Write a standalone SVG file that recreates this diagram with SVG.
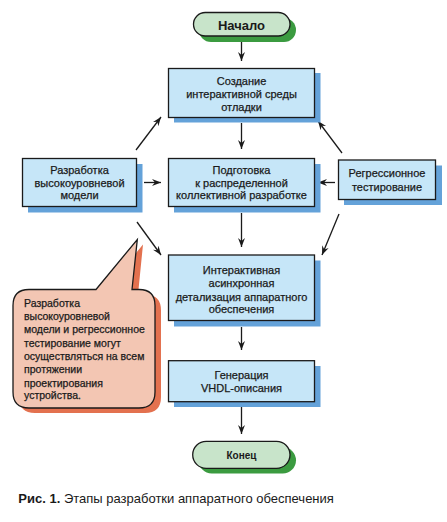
<svg xmlns="http://www.w3.org/2000/svg" width="447" height="522" viewBox="0 0 447 522">
<style>
.box{fill:#c6e6f8;stroke:#1a1a1a;stroke-width:1.3}
.sh{fill:#64a2d9}
.ov{fill:#c8e4ca;stroke:#1a1a1a;stroke-width:1.3}
.osh{fill:#3b9b40}
.t{font-family:"Liberation Sans",Arial,sans-serif;font-size:11px;fill:#1a1a1a;text-anchor:middle;stroke:#1a1a1a;stroke-width:0.25}
.c{font-family:"Liberation Sans",Arial,sans-serif;font-size:10.5px;fill:#1a1a1a;stroke:#1a1a1a;stroke-width:0.25}
.ln{stroke:#1a1a1a;stroke-width:1.3;fill:none;marker-end:url(#ah)}
</style>
<defs>
<marker id="ah" viewBox="-9 -4 10 8" refX="0" refY="0" markerWidth="10" markerHeight="8" markerUnits="userSpaceOnUse" orient="auto">
<path d="M0,0 L-9,-3.5 L-6,0 L-9,3.5 Z" fill="#1a1a1a"/>
</marker>
</defs>
<rect width="447" height="522" fill="#ffffff"/>
<g id="connectors">
<line class="ln" x1="241.5" y1="42" x2="241.5" y2="61"/>
<line class="ln" x1="241.5" y1="123" x2="241.5" y2="149"/>
<line class="ln" x1="241.5" y1="213" x2="241.5" y2="247"/>
<line class="ln" x1="241.5" y1="327" x2="241.5" y2="350"/>
<line class="ln" x1="241.5" y1="407" x2="241.5" y2="434"/>
<line class="ln" x1="144" y1="182.5" x2="161" y2="182.5"/>
<line class="ln" x1="335" y1="182.5" x2="318" y2="182.5"/>
<line class="ln" x1="136" y1="150" x2="161" y2="117"/>
<line class="ln" x1="342" y1="153" x2="318" y2="121"/>
<line class="ln" x1="137" y1="222" x2="161" y2="255"/>
<line class="ln" x1="339" y1="214" x2="322" y2="255"/>
</g>
<g id="start">
<rect class="osh" x="199" y="18" width="97" height="24" rx="12"/>
<rect class="ov" x="193.5" y="12.5" width="96.5" height="23.5" rx="11.75"/>
<text class="t" x="241.5" y="29.5" style="font-size:13px;font-weight:bold;stroke-width:0">Начало</text>
</g>
<g id="create">
<rect class="sh" x="174" y="73" width="146.5" height="49.5"/>
<rect class="box" x="168.5" y="68.5" width="146" height="49"/>
<text class="t" x="241.5" y="85">Создание</text>
<text class="t" x="241.5" y="98">интерактивной среды</text>
<text class="t" x="241.5" y="111">отладки</text>
</g>
<g id="model">
<rect class="sh" x="28" y="164" width="114.5" height="48.5"/>
<rect class="box" x="22.5" y="158.5" width="114" height="48"/>
<text class="t" x="79.5" y="174">Разработка</text>
<text class="t" x="79.5" y="186.7">высокоуровневой</text>
<text class="t" x="79.5" y="199">модели</text>
</g>
<g id="prepare">
<rect class="sh" x="174" y="164" width="146.5" height="48.5"/>
<rect class="box" x="168.5" y="158.5" width="146" height="48"/>
<text class="t" x="241.5" y="174">Подготовка</text>
<text class="t" x="241.5" y="186.7">к распределенной</text>
<text class="t" x="241.5" y="199">коллективной разработке</text>
</g>
<g id="regress">
<rect class="sh" x="344" y="165.5" width="98" height="39.5"/>
<rect class="box" x="338.5" y="160" width="97" height="39.5"/>
<text class="t" x="387" y="177.3">Регрессионное</text>
<text class="t" x="387" y="190.7">тестирование</text>
</g>
<g id="detail">
<rect class="sh" x="174" y="260.5" width="146.5" height="66"/>
<rect class="box" x="168.5" y="255" width="146" height="65.5"/>
<text class="t" x="241.5" y="274">Интерактивная</text>
<text class="t" x="241.5" y="287.3">асинхронная</text>
<text class="t" x="241.5" y="300.7">детализация аппаратного</text>
<text class="t" x="241.5" y="313.3">обеспечения</text>
</g>
<g id="vhdl">
<rect class="sh" x="174" y="366" width="146.5" height="41"/>
<rect class="box" x="168.5" y="360.7" width="146" height="41"/>
<text class="t" x="241.5" y="379">Генерация</text>
<text class="t" x="241.5" y="391.7">VHDL-описания</text>
</g>
<g id="end">
<rect class="osh" x="198.5" y="447" width="97.5" height="26.5" rx="13.25"/>
<rect class="ov" x="192.7" y="441.3" width="97.3" height="27" rx="13.5"/>
<text class="t" x="241.5" y="458.5" style="font-size:10px;font-weight:bold;stroke-width:0">Конец</text>
</g>
<g id="callout">
<path d="M35,294.5 L102,294.5 L143,244.5 L138,294.5 L145,294.5 Q161,294.5 161,310.5 L161,397 Q161,413 145,413 L35,413 Q19,413 19,397 L19,310.5 Q19,294.5 35,294.5 Z" fill="#e3714f"/>
<path d="M29,289.5 L96,289.5 L137.3,239.5 L132,289.5 L139,289.5 Q155,289.5 155,305.5 L155,392 Q155,408 139,408 L29,408 Q13,408 13,392 L13,305.5 Q13,289.5 29,289.5 Z" fill="#f3c6b3" stroke="#1a1a1a" stroke-width="1.3"/>
<text class="c" x="24" y="306.5">Разработка</text>
<text class="c" x="24" y="320">высокоуровневой</text>
<text class="c" x="24" y="333.3">модели и регрессионное</text>
<text class="c" x="24" y="346.7">тестирование могут</text>
<text class="c" x="24" y="360">осуществляться на всем</text>
<text class="c" x="24" y="373.3">протяжении</text>
<text class="c" x="24" y="386.7">проектирования</text>
<text class="c" x="24" y="398.5">устройства.</text>
</g>
<text x="18.3" y="503" style="font-family:'Liberation Sans',Arial,sans-serif;font-size:13px;fill:#1a1a1a"><tspan font-weight="bold">Рис. 1.</tspan> Этапы разработки аппаратного обеспечения</text>
</svg>
